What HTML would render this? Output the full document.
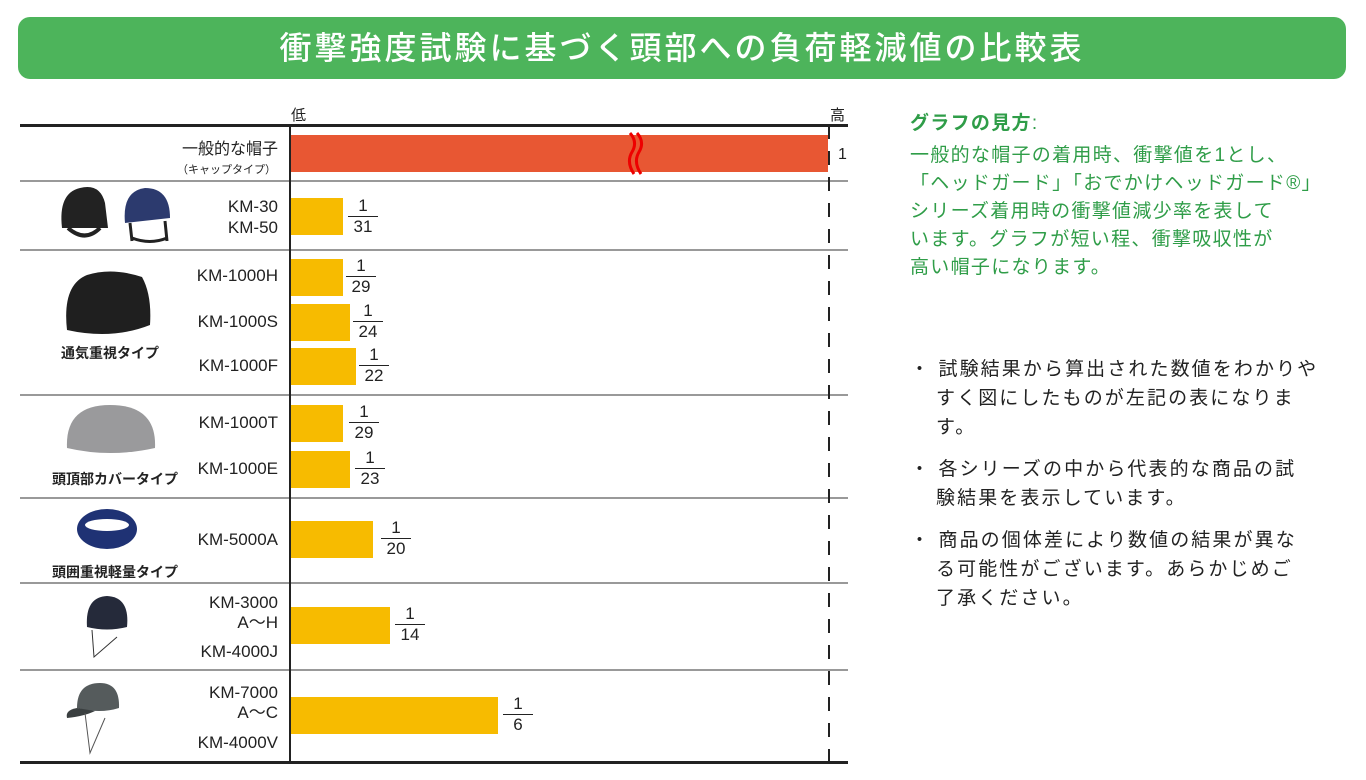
<!DOCTYPE html>
<html><head><meta charset="utf-8"><style>
*{margin:0;padding:0;box-sizing:border-box}
body{width:1366px;height:780px;background:#fff;position:relative;overflow:hidden;font-family:"Liberation Sans","Noto Sans CJK JP",sans-serif;color:#222}
.a{position:absolute}
.banner{left:18px;top:17px;width:1328px;height:62px;background:#4db45b;border-radius:12px;color:#fff;font-size:32px;text-align:center;line-height:62px;letter-spacing:3px;font-weight:500}
.hl{background:#222;height:2px}
.gl{background:#999;height:1.5px;left:20px;width:828px}
.bar{background:#f7bb00;left:291px;height:37px}
.lab{right:1088px;text-align:right;font-size:17px;line-height:20px}
.fr{font-size:17px;text-align:center;width:30px;line-height:19px}
.fr span{display:block}
.fr .n{border-bottom:1.5px solid #222;padding-bottom:1px}
.cat{font-size:14px;font-weight:bold;text-align:center;width:170px;left:30px}
.g{color:#2f9d48;font-size:19px;line-height:28px;left:910px;letter-spacing:1.3px}
.b{font-size:19px;line-height:29px;left:910px;color:#222;letter-spacing:2.1px}
.b div{padding-left:26px;text-indent:-26px}
</style></head><body>
<div class="a banner">衝撃強度試験に基づく頭部への負荷軽減値の比較表</div>

<div class="a" style="left:291px;top:104px;font-size:15px">低</div>
<div class="a" style="left:830px;top:104px;font-size:15px">高</div>
<div class="a hl" style="left:20px;top:124px;width:828px;height:3px"></div>
<div class="a hl" style="left:20px;top:761px;width:828px;height:3px"></div>
<div class="a gl" style="top:180px"></div>
<div class="a gl" style="top:249px"></div>
<div class="a gl" style="top:394px"></div>
<div class="a gl" style="top:497px"></div>
<div class="a gl" style="top:582px"></div>
<div class="a gl" style="top:669px"></div>
<div class="a" style="left:289px;top:125px;width:2px;height:638px;background:#222"></div>
<div class="a" style="left:828px;top:125px;width:2px;height:638px;background:repeating-linear-gradient(#222 0 14px,transparent 14px 26px)"></div>

<div class="a" style="left:291px;top:135px;width:537px;height:37px;background:#e85733"></div>
<svg class="a" style="left:620px;top:130px" width="30" height="50"><path d="M10 3 Q18 12 12 22 Q6 32 14 44" stroke="#e00" stroke-width="3" fill="none"/><path d="M17 3 Q25 12 19 22 Q13 32 21 44" stroke="#e00" stroke-width="3" fill="none"/></svg>
<div class="a" style="left:838px;top:146px;font-size:16px">1</div>
<div class="a lab" style="top:140px;font-size:16px">一般的な帽子</div>
<div class="a lab" style="top:160px;font-size:11px;right:1090px">（キャップタイプ）</div>

<div class="a bar" style="top:198px;width:52px"></div>
<div class="a lab" style="top:196px;line-height:21px">KM-30<br>KM-50</div>
<div class="a fr" style="left:348px;top:196px"><span class="n">1</span><span>31</span></div>

<div class="a bar" style="top:259px;width:52px"></div>
<div class="a lab" style="top:266px">KM-1000H</div>
<div class="a fr" style="left:346px;top:256px"><span class="n">1</span><span>29</span></div>
<div class="a bar" style="top:304px;width:59px"></div>
<div class="a lab" style="top:312px">KM-1000S</div>
<div class="a fr" style="left:353px;top:301px"><span class="n">1</span><span>24</span></div>
<div class="a bar" style="top:348px;width:65px"></div>
<div class="a lab" style="top:356px">KM-1000F</div>
<div class="a fr" style="left:359px;top:345px"><span class="n">1</span><span>22</span></div>

<div class="a bar" style="top:405px;width:52px"></div>
<div class="a lab" style="top:413px">KM-1000T</div>
<div class="a fr" style="left:349px;top:402px"><span class="n">1</span><span>29</span></div>
<div class="a bar" style="top:451px;width:59px"></div>
<div class="a lab" style="top:459px">KM-1000E</div>
<div class="a fr" style="left:355px;top:448px"><span class="n">1</span><span>23</span></div>

<div class="a bar" style="top:521px;width:82px"></div>
<div class="a lab" style="top:530px">KM-5000A</div>
<div class="a fr" style="left:381px;top:518px"><span class="n">1</span><span>20</span></div>

<div class="a bar" style="top:607px;width:99px"></div>
<div class="a lab" style="top:593px;line-height:20px">KM-3000<br>A～H</div>
<div class="a lab" style="top:642px">KM-4000J</div>
<div class="a fr" style="left:395px;top:604px"><span class="n">1</span><span>14</span></div>

<div class="a bar" style="top:697px;width:207px"></div>
<div class="a lab" style="top:683px;line-height:20px">KM-7000<br>A～C</div>
<div class="a lab" style="top:733px">KM-4000V</div>
<div class="a fr" style="left:503px;top:694px"><span class="n">1</span><span>6</span></div>

<svg class="a" style="left:50px;top:183px" width="130" height="65">
<path d="M12 45 Q8 10 30 5 Q50 0 55 20 L58 45 Z" fill="#222"/><path d="M18 45 Q35 60 50 45" stroke="#222" stroke-width="4" fill="none"/>
<path d="M75 40 Q72 8 95 5 Q120 5 120 35 Z" fill="#2c3a6e"/><path d="M80 40 L82 58 M115 38 L117 58 M82 55 Q100 62 117 55" stroke="#222" stroke-width="3" fill="none"/></svg>
<svg class="a" style="left:62px;top:265px" width="95" height="80"><path d="M5 65 Q0 20 25 10 Q50 2 80 12 Q90 30 88 60 Q50 75 5 65Z" fill="#1f1f1f"/></svg>
<div class="a cat" style="top:343px;left:25px">通気重視タイプ</div>
<svg class="a" style="left:65px;top:400px" width="92" height="60"><path d="M2 48 Q0 5 45 5 Q92 5 90 48 Q45 58 2 48Z" fill="#9a9a9c"/></svg>
<div class="a cat" style="top:469px;left:30px">頭頂部カバータイプ</div>
<svg class="a" style="left:72px;top:505px" width="70" height="50"><ellipse cx="35" cy="24" rx="30" ry="20" fill="#1f3274"/><ellipse cx="35" cy="20" rx="22" ry="6" fill="#fff"/></svg>
<div class="a cat" style="top:562px;left:30px">頭囲重視軽量タイプ</div>
<svg class="a" style="left:82px;top:592px" width="50" height="75"><path d="M5 35 Q3 5 25 4 Q48 5 45 35 Q25 40 5 35Z" fill="#252a3a"/><path d="M10 38 L12 65 L35 45" stroke="#333" stroke-width="1" fill="none"/></svg>
<svg class="a" style="left:65px;top:678px" width="60" height="82"><path d="M12 30 Q12 5 35 5 Q55 5 54 30 Q35 36 12 30Z" fill="#555b5c"/><path d="M12 30 Q0 32 2 40 Q20 38 30 33Z" fill="#3a3f40"/><path d="M20 35 L25 75 L40 40" stroke="#555" stroke-width="1" fill="none"/></svg>

<div class="a g" style="top:110px;font-weight:bold">グラフの見方<span style="font-weight:normal">:</span></div>
<div class="a g" style="top:142px;width:440px">一般的な帽子の着用時、衝撃値を1とし、<br>「ヘッドガード」「おでかけヘッドガード®」<br>シリーズ着用時の衝撃値減少率を表して<br>います。グラフが短い程、衝撃吸収性が<br>高い帽子になります。</div>

<div class="a b" style="top:355px;width:440px">
<div>・ 試験結果から算出された数値をわかりや<br>すく図にしたものが左記の表になりま<br>す。</div>
<div style="margin-top:13px">・ 各シリーズの中から代表的な商品の試<br>験結果を表示しています。</div>
<div style="margin-top:13px">・ 商品の個体差により数値の結果が異な<br>る可能性がございます。あらかじめご<br>了承ください。</div>
</div>
</body></html>
